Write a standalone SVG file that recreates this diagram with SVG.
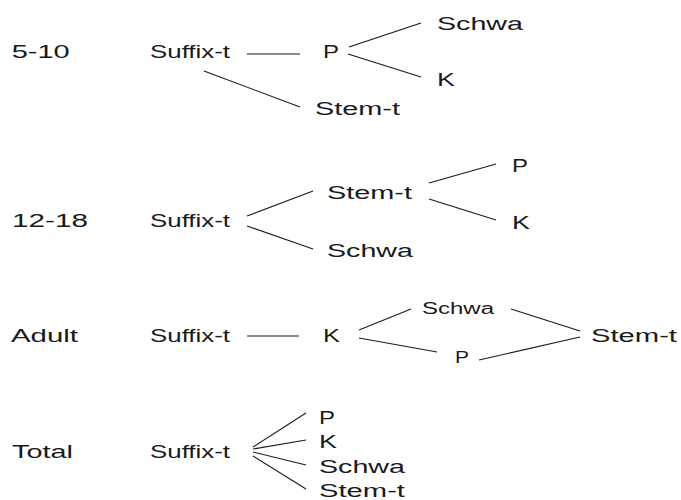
<svg xmlns="http://www.w3.org/2000/svg" width="681" height="500" viewBox="0 0 681 500">
<style>
text{font-family:"Liberation Sans",Arial,sans-serif;font-size:18px;fill:#1a1a1a}
text.s{font-size:16px}
#connectors line{stroke:#1a1a1a;stroke-width:1.1;fill:none}
</style>
<rect width="681" height="500" fill="#fff"/>
<g id="connectors">
<line x1="247" y1="54" x2="300" y2="54"/>
<line x1="204" y1="71" x2="300" y2="107"/>
<line x1="349" y1="47" x2="421" y2="23"/>
<line x1="348" y1="54" x2="421" y2="77"/>
<line x1="247" y1="216" x2="313" y2="191"/>
<line x1="247" y1="226" x2="313" y2="249"/>
<line x1="429" y1="183" x2="496" y2="164"/>
<line x1="429" y1="199" x2="496" y2="220"/>
<line x1="247" y1="336" x2="299" y2="336"/>
<line x1="359" y1="330" x2="411" y2="309"/>
<line x1="359" y1="338" x2="437" y2="352"/>
<line x1="511" y1="309" x2="580" y2="331"/>
<line x1="479" y1="360" x2="580" y2="337"/>
<line x1="253" y1="447" x2="306" y2="413"/>
<line x1="253" y1="449" x2="306" y2="440"/>
<line x1="253" y1="452" x2="306" y2="465"/>
<line x1="253" y1="456" x2="306" y2="489"/>
</g>
<g id="r1-label"><text x="11.7" y="58" textLength="58" lengthAdjust="spacingAndGlyphs">5-10</text></g>
<g id="r1-suffix"><text x="150" y="58" textLength="80" lengthAdjust="spacingAndGlyphs">Suffix-t</text></g>
<g id="r1-p"><text x="323" y="58" textLength="16" lengthAdjust="spacingAndGlyphs">P</text></g>
<g id="r1-schwa"><text x="437" y="29.5" textLength="86" lengthAdjust="spacingAndGlyphs">Schwa</text></g>
<g id="r1-k"><text x="437" y="86" textLength="18" lengthAdjust="spacingAndGlyphs">K</text></g>
<g id="r1-stem"><text x="315" y="115" textLength="85" lengthAdjust="spacingAndGlyphs">Stem-t</text></g>
<g id="r2-label"><text x="12" y="227" textLength="76" lengthAdjust="spacingAndGlyphs">12-18</text></g>
<g id="r2-suffix"><text x="150" y="227" textLength="80" lengthAdjust="spacingAndGlyphs">Suffix-t</text></g>
<g id="r2-stem"><text x="327" y="199" textLength="85" lengthAdjust="spacingAndGlyphs">Stem-t</text></g>
<g id="r2-schwa"><text x="327" y="257" textLength="86" lengthAdjust="spacingAndGlyphs">Schwa</text></g>
<g id="r2-p"><text x="512" y="172" textLength="16" lengthAdjust="spacingAndGlyphs">P</text></g>
<g id="r2-k"><text x="512" y="229" textLength="18" lengthAdjust="spacingAndGlyphs">K</text></g>
<g id="r3-label"><text x="11" y="342" textLength="67" lengthAdjust="spacingAndGlyphs">Adult</text></g>
<g id="r3-suffix"><text x="150" y="342" textLength="80" lengthAdjust="spacingAndGlyphs">Suffix-t</text></g>
<g id="r3-k"><text x="323" y="342" textLength="17" lengthAdjust="spacingAndGlyphs">K</text></g>
<g id="r3-schwa"><text class="s" x="422" y="314" textLength="72" lengthAdjust="spacingAndGlyphs">Schwa</text></g>
<g id="r3-p"><text class="s" x="455" y="363" textLength="14" lengthAdjust="spacingAndGlyphs">P</text></g>
<g id="r3-stem"><text x="591" y="342" textLength="86" lengthAdjust="spacingAndGlyphs">Stem-t</text></g>
<g id="r4-label"><text x="12" y="458" textLength="61" lengthAdjust="spacingAndGlyphs">Total</text></g>
<g id="r4-suffix"><text x="150" y="458" textLength="80" lengthAdjust="spacingAndGlyphs">Suffix-t</text></g>
<g id="r4-p"><text x="319" y="423.5" textLength="16" lengthAdjust="spacingAndGlyphs">P</text></g>
<g id="r4-k"><text x="319" y="447.5" textLength="18" lengthAdjust="spacingAndGlyphs">K</text></g>
<g id="r4-schwa"><text x="319" y="472.5" textLength="86" lengthAdjust="spacingAndGlyphs">Schwa</text></g>
<g id="r4-stem"><text x="319" y="496.5" textLength="86" lengthAdjust="spacingAndGlyphs">Stem-t</text></g>
</svg>
